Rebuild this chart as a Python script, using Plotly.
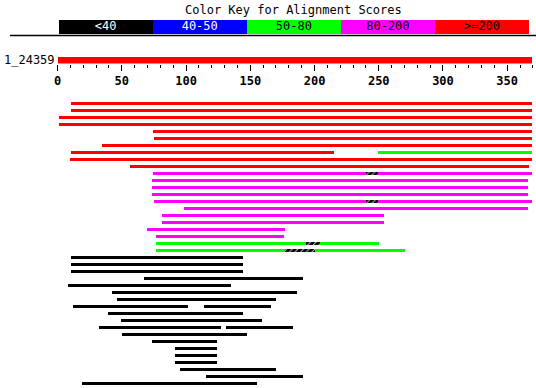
import plotly.graph_objects as go

# ---------------- data ----------------
query_name = "1_24359"
query_length = 369

key_labels = ["<40", "40-50", "50-80", "80-200", ">=200"]
key_colors = ["#000000", "#0000ff", "#00ff00", "#ff00ff", "#ff0000"]
key_text_colors = ["#ffffff", "#ffffff", "#000000", "#000000", "#000000"]

axis_ticks = [0, 50, 100, 150, 200, 250, 300, 350]

# one entry per aligned segment: row index, query start, query end, kind
seg_row = [0, 1, 2, 3, 4, 5, 6, 7, 7, 8, 9,
           10, 10, 10, 11, 12, 13, 14, 14, 14, 15, 16, 17, 18, 19,
           20, 20, 20, 21, 21, 21,
           22, 23, 24, 25, 26, 27, 28, 29, 29, 30, 31, 32, 32, 33,
           34, 35, 36, 37, 38, 39, 40]
seg_start = [10, 10, 1, 1, 74, 75, 34, 10, 249, 9, 56,
             74, 240, 249, 73, 73, 73, 75, 240, 249, 98, 81, 81, 69, 76,
             76, 193, 204, 76, 177, 200,
             10, 10, 10, 67, 8, 42, 46, 12, 114, 39, 49, 32, 131, 50,
             73, 91, 91, 91, 95, 115, 19]
seg_end = [369, 369, 369, 369, 369, 369, 369, 215, 369, 369, 367,
           240, 249, 369, 366, 366, 366, 240, 249, 369, 366, 254, 254, 177, 176,
           193, 204, 250, 177, 200, 270,
           144, 144, 144, 191, 135, 186, 170, 101, 166, 144, 159, 127, 183, 147,
           124, 124, 124, 124, 170, 191, 155]
seg_kind = [">=200", ">=200", ">=200", ">=200", ">=200", ">=200", ">=200", ">=200", "50-80", ">=200", ">=200",
            "80-200", "gap", "80-200", "80-200", "80-200", "80-200", "80-200", "gap", "80-200", "80-200", "80-200", "80-200", "80-200", "80-200",
            "50-80", "gap", "50-80", "50-80", "gap", "50-80",
            "<40", "<40", "<40", "<40", "<40", "<40", "<40", "<40", "<40", "<40", "<40", "<40", "<40", "<40",
            "<40", "<40", "<40", "<40", "<40", "<40", "<40"]

# ---------------- layout geometry ----------------
W, H = 536, 388
PX_PER_UNIT = 1.2943
X0_PX = 54
x_hi = (W - X0_PX) / PX_PER_UNIT
xdom = [X0_PX / W, 1]

ROW0_PX, ROW_STEP = 103.5, 7.0
y_top = -ROW0_PX / ROW_STEP
y_bot = (H - ROW0_PX) / ROW_STEP

FONT = "DejaVu Sans Mono"

fig = go.Figure()

# alignment segments
color_of = dict(zip(key_labels, key_colors))
for kind in key_labels + ["gap"]:
    idx = [i for i, k in enumerate(seg_kind) if k == kind]
    if not idx:
        continue
    ys = [seg_row[i] for i in idx]
    bases = [seg_start[i] for i in idx]
    lens = [seg_end[i] - seg_start[i] for i in idx]
    if kind == "gap":
        marker = dict(color="white", line=dict(width=0),
                      pattern=dict(shape="/", fgcolor="black", bgcolor="white",
                                   size=4, solidity=0.8, fgopacity=1))
    else:
        marker = dict(color=color_of[kind], line=dict(width=0))
    fig.add_trace(go.Bar(orientation="h", y=ys, x=lens, base=bases,
                         width=3 / ROW_STEP, marker=marker,
                         xaxis="x", yaxis="y", showlegend=False,
                         hoverinfo="skip"))

# query bar
fig.add_trace(go.Bar(orientation="h", y=[0], x=[query_length], base=[0], width=1,
                     marker=dict(color="#ff0000", line=dict(width=0)),
                     xaxis="x2", yaxis="y2", showlegend=False, hoverinfo="skip"))

# colour key
fig.add_trace(go.Bar(orientation="h", y=[0] * len(key_labels), x=[1] * len(key_labels),
                     base=list(range(len(key_labels))), width=1,
                     marker=dict(color=key_colors, line=dict(width=0)),
                     xaxis="x3", yaxis="y3", showlegend=False, hoverinfo="skip"))
fig.add_trace(go.Scatter(x=[i + 0.5 for i in range(len(key_labels))], y=[0] * len(key_labels),
                         mode="text", text=key_labels,
                         textfont=dict(family=FONT, size=12, color=key_text_colors),
                         textposition="middle center",
                         xaxis="x3", yaxis="y3", showlegend=False, hoverinfo="skip"))

def py(px):
    return 1 - px / H

hidden = dict(showgrid=False, zeroline=False, showticklabels=False, ticks="", showline=False)

fig.update_layout(
    width=W, height=H,
    margin=dict(l=0, r=0, t=0, b=0),
    paper_bgcolor="white", plot_bgcolor="white",
    barmode="overlay", bargap=0,
    xaxis=dict(domain=xdom, range=[0, x_hi], anchor="y", **hidden),
    yaxis=dict(domain=[0, 1], range=[y_bot, y_top], anchor="x", **hidden),
    xaxis2=dict(domain=xdom, range=[0, x_hi], anchor="y2",
                showgrid=False, zeroline=False, showline=False,
                tickmode="array", tickvals=axis_ticks,
                ticks="outside", ticklen=6, tickwidth=1, tickcolor="black",
                tickfont=dict(family=FONT, size=12, color="black", weight="bold"),
                minor=dict(ticks="outside", ticklen=3, tickwidth=1, tickcolor="black",
                           dtick=10, tick0=0, showgrid=False)),
    yaxis2=dict(domain=[py(63.5), py(56.5)], range=[-0.5, 0.5], anchor="x2", **hidden),
    xaxis3=dict(domain=[55 / W, 529 / W], range=[0, len(key_labels)], anchor="y3", **hidden),
    yaxis3=dict(domain=[py(34), py(20)], range=[-0.5, 0.5], anchor="x3", **hidden),
    annotations=[
        dict(text="Color Key for Alignment Scores", xref="paper", yref="paper",
             x=292 / W, y=py(10), xanchor="center", yanchor="middle", showarrow=False,
             font=dict(family=FONT, size=12, color="black")),
        dict(text=query_name, xref="paper", yref="paper",
             x=53 / W, y=py(60), xanchor="right", yanchor="middle", showarrow=False,
             font=dict(family=FONT, size=12, color="black")),
    ],
    shapes=[dict(type="line", xref="paper", yref="paper", x0=6 / W, x1=1,
                 y0=py(35.5), y1=py(35.5), line=dict(color="black", width=1.5))],
)

fig.write_html("out.html", config={"displayModeBar": False},
               post_script=("document.body.style.margin='0';"
                            "document.body.style.overflow='hidden';"))
